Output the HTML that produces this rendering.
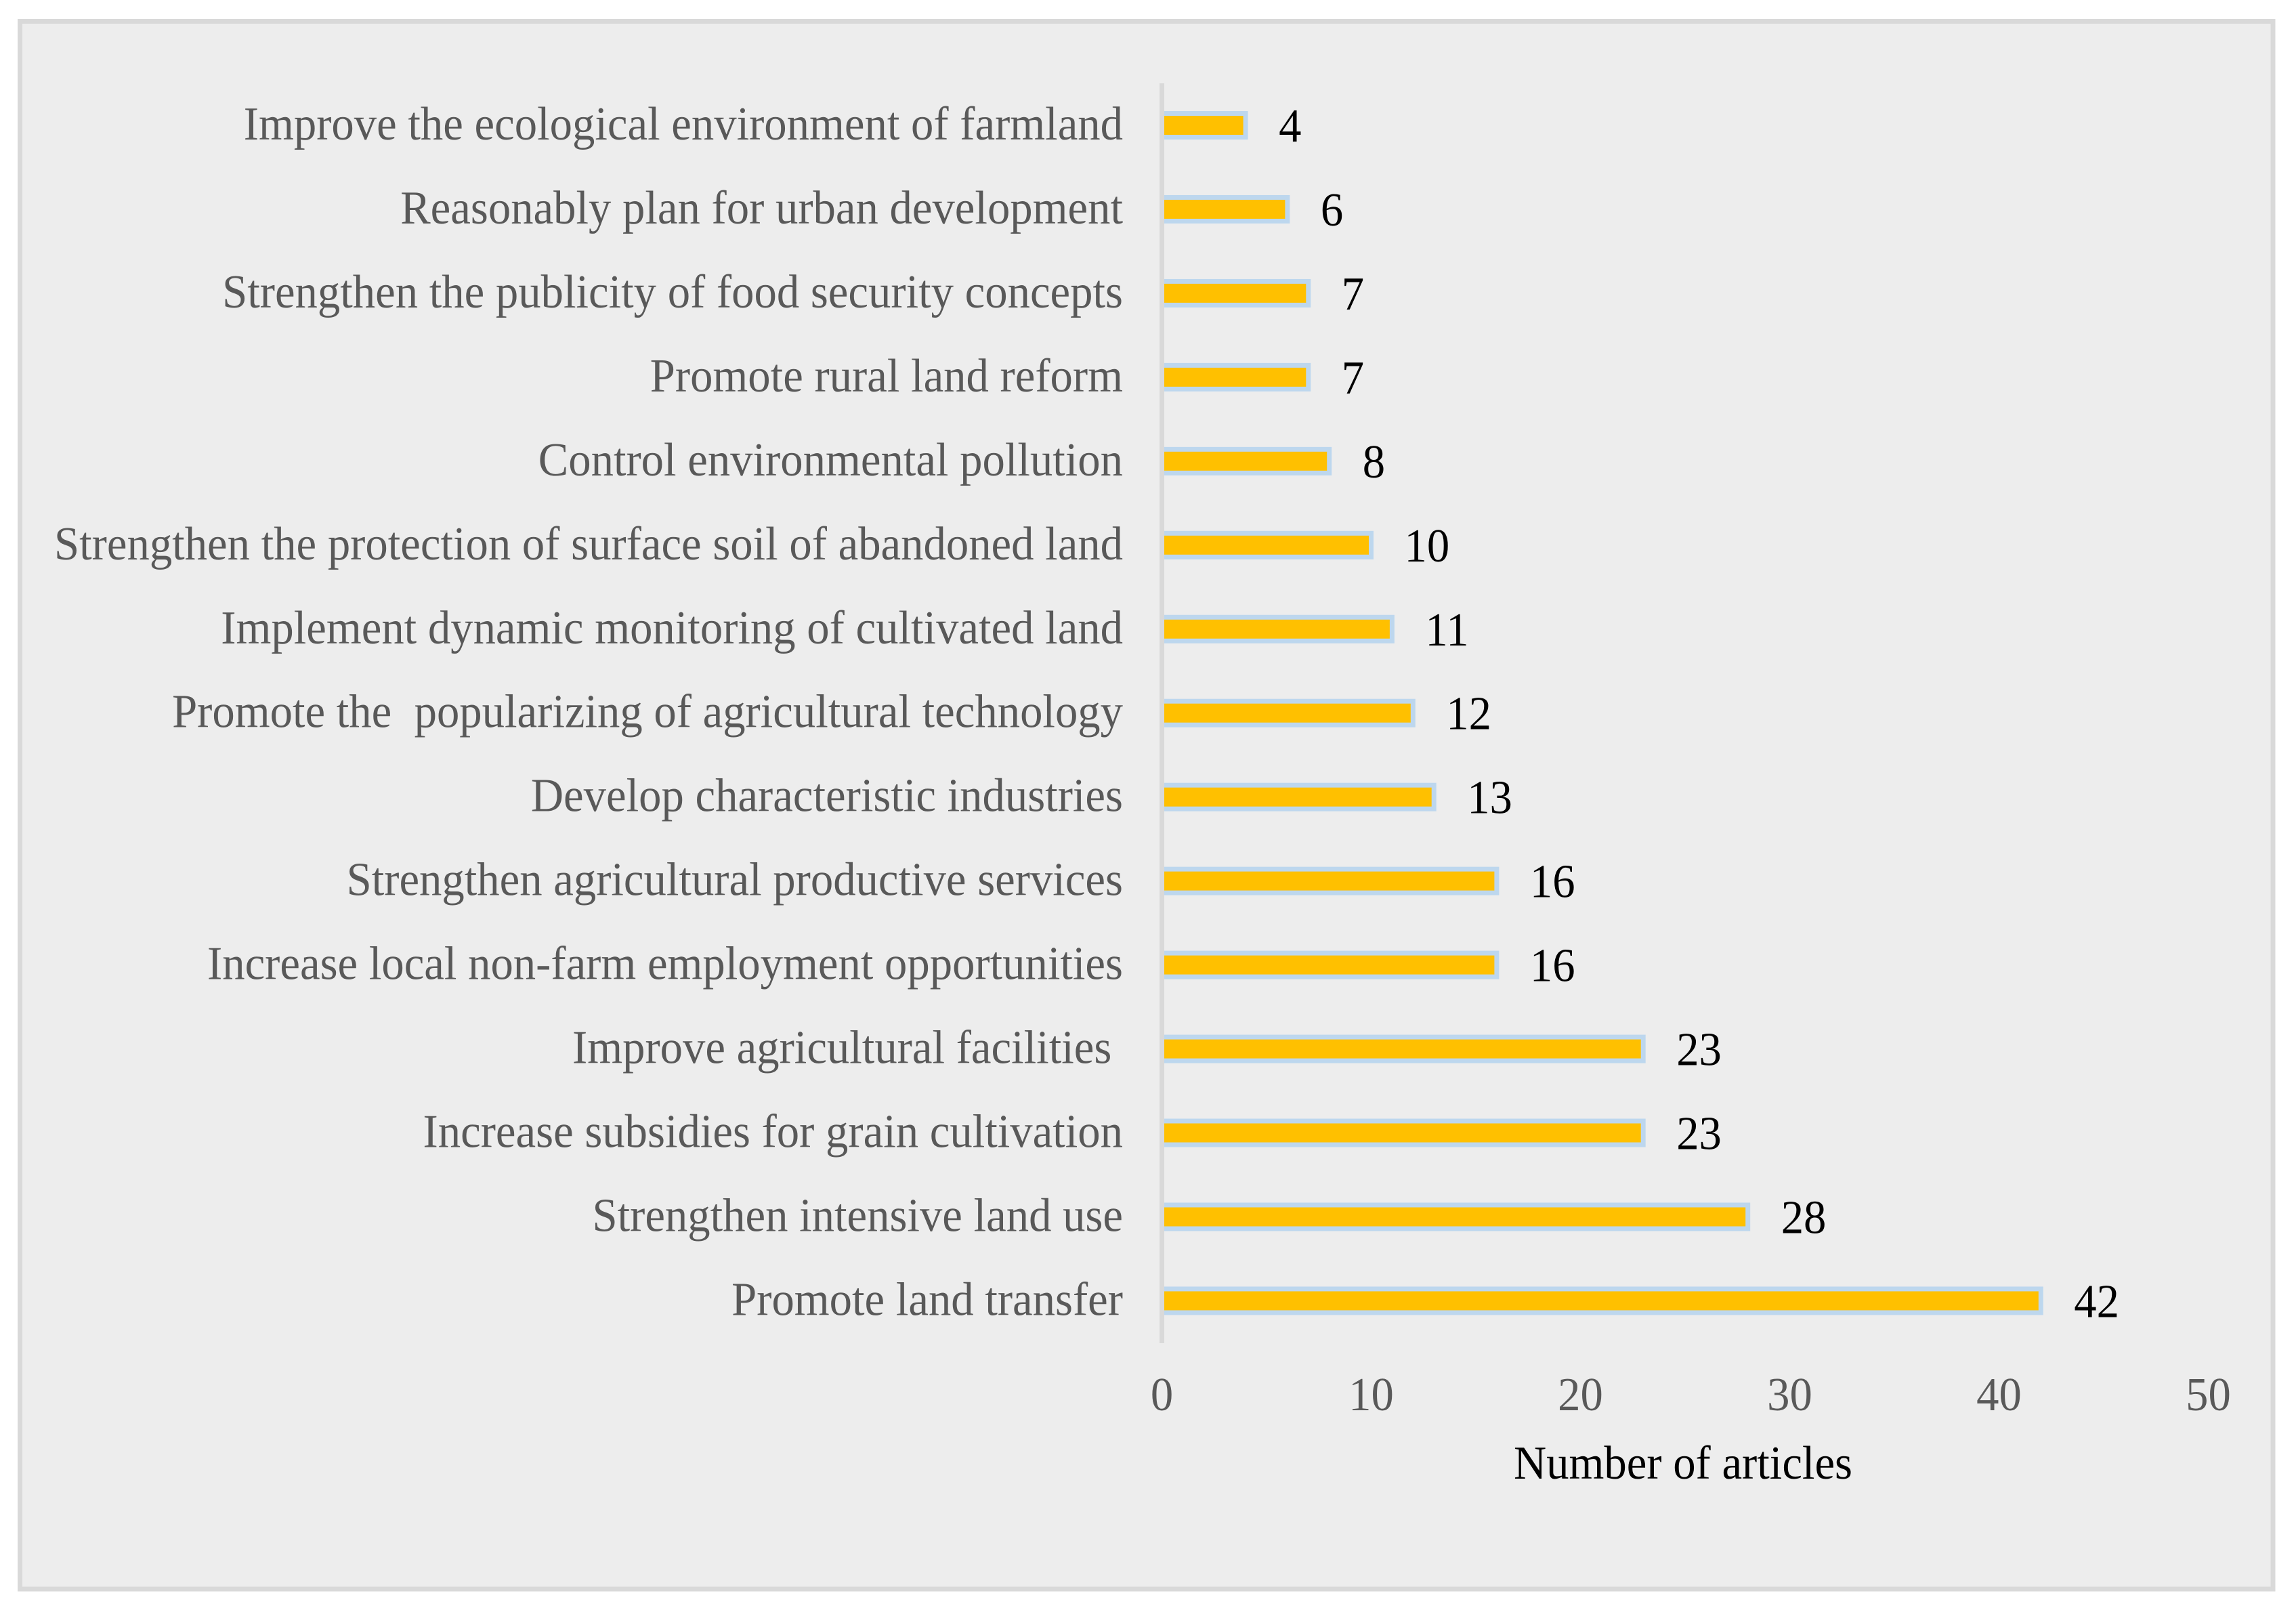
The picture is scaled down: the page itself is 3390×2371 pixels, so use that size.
<!DOCTYPE html>
<html lang="en">
<head>
<meta charset="utf-8">
<title>Number of articles by measure</title>
<style>
html,body{margin:0;padding:0;background:#fff;}
svg{display:block;}
text{font-family:"Liberation Serif","Times New Roman",serif;font-size:70px;white-space:pre;}
</style>
</head>
<body>
<svg id="chart" xmlns="http://www.w3.org/2000/svg" width="3390" height="2371" viewBox="0 0 3390 2371">
<rect x="29.5" y="31.5" width="3326.5" height="2314.5" fill="#ededed" stroke="#d9d9d9" stroke-width="7"/>
<g id="bars"></g>
<rect x="1712" y="123" width="7" height="1860" fill="#d9d9d9"/>
<g id="labels"></g>
<g id="values"></g>
<g id="ticks"></g>
<text transform="translate(2485,2183) scale(0.953,1)" text-anchor="middle" fill="#000">Number of articles</text>
</svg>
<script>
const categories = [
  "Improve the ecological environment of farmland",
  "Reasonably plan for urban development",
  "Strengthen the publicity of food security concepts",
  "Promote rural land reform",
  "Control environmental pollution",
  "Strengthen the protection of surface soil of abandoned land",
  "Implement dynamic monitoring of cultivated land",
  "Promote the  popularizing of agricultural technology",
  "Develop characteristic industries",
  "Strengthen agricultural productive services",
  "Increase local non-farm employment opportunities",
  "Improve agricultural facilities ",
  "Increase subsidies for grain cultivation",
  "Strengthen intensive land use",
  "Promote land transfer"
];
const articleCounts = [4, 6, 7, 7, 8, 10, 11, 12, 13, 16, 16, 23, 23, 28, 42];
const tickValues = [0, 10, 20, 30, 40, 50];

const NS = "http://www.w3.org/2000/svg";
const textScale = 0.953;
function xScale(v) { return 1715.5 + v * 30.9; }
function yScale(i) { return 185 + i * 123.96; }

const barsGroup = document.getElementById("bars");
const labelsGroup = document.getElementById("labels");
const valuesGroup = document.getElementById("values");
const ticksGroup = document.getElementById("ticks");

categories.forEach(function (name, i) {
  const v = articleCounts[i];
  const cy = yScale(i);

  const bar = document.createElementNS(NS, "rect");
  
  
  bar.setAttribute("x", xScale(0));
  bar.setAttribute("y", cy - 17.5);
  bar.setAttribute("width", xScale(v) - xScale(0));
  bar.setAttribute("height", 35);
  bar.setAttribute("fill", "#ffc000");
  bar.setAttribute("stroke", "#bdd7ee");
  bar.setAttribute("stroke-width", 7);
  barsGroup.appendChild(bar);

  const label = document.createElementNS(NS, "text");
  
  
  label.setAttribute("transform", "translate(1658," + (cy + 21) + ") scale(" + textScale + ",1)");
  label.setAttribute("text-anchor", "end");
  label.setAttribute("fill", "#595959");
  label.textContent = name;
  labelsGroup.appendChild(label);

  const value = document.createElementNS(NS, "text");
  
  
  value.setAttribute("transform", "translate(" + (xScale(v) + 49) + "," + (cy + 24) + ") scale(" + textScale + ",1)");
  value.setAttribute("fill", "#000");
  value.textContent = v;
  valuesGroup.appendChild(value);
});

tickValues.forEach(function (t) {
  const tick = document.createElementNS(NS, "text");
  
  
  tick.setAttribute("transform", "translate(" + xScale(t) + ",2082) scale(" + textScale + ",1)");
  tick.setAttribute("text-anchor", "middle");
  tick.setAttribute("fill", "#595959");
  tick.textContent = t;
  ticksGroup.appendChild(tick);
});
</script>
</body>
</html>
